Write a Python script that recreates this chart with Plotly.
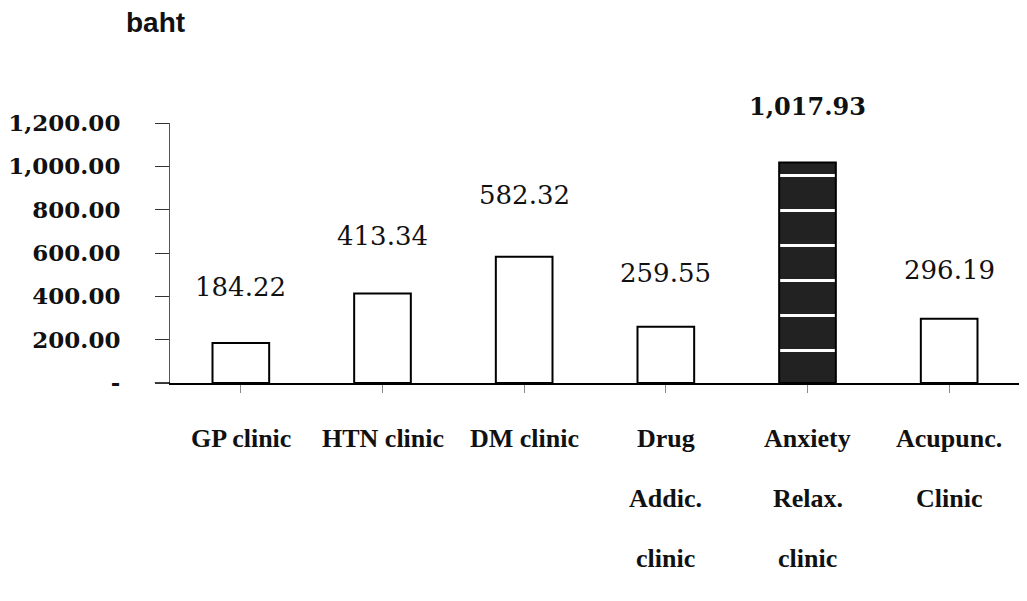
import plotly.graph_objects as go

categories = ["GP clinic", "HTN clinic", "DM clinic", "Drug\nAddic.\nclinic", "Anxiety\nRelax.\nclinic", "Acupunc.\nClinic"]
values = [184.22, 413.34, 582.32, 259.55, 1017.93, 296.19]
value_labels = ["184.22", "413.34", "582.32", "259.55", "1,017.93", "296.19"]
tick_vals = [0, 200, 400, 600, 800, 1000, 1200]
tick_text = ["-", "200.00", "400.00", "600.00", "800.00", "1,000.00", "1,200.00"]
highlight = "Anxiety\nRelax.\nclinic"

# style (not data)
label_yshift = [56, 57, 62, 54, 56, 49]

xs = list(range(len(categories)))
fills = ["#222222" if c == highlight else "white" for c in categories]
shapes_pat = ["-" if c == highlight else "" for c in categories]

fig = go.Figure()
fig.add_trace(go.Bar(
    x=xs, y=values, width=0.4,
    marker=dict(
        color=fills,
        line=dict(color="black", width=2),
        pattern=dict(shape=shapes_pat, fgcolor="white", bgcolor="#222222", fgopacity=1,
                     size=35, solidity=0.09),
    ),
    showlegend=False,
))

annotations = []
for i, (v, lab) in enumerate(zip(values, value_labels)):
    bold = categories[i] == highlight
    annotations.append(dict(
        x=xs[i], y=v, xref="x", yref="y", text=("<b>%s</b>" % lab) if bold else lab,
        showarrow=False, yshift=label_yshift[i],
        font=dict(family="DejaVu Serif", size=26 if not bold else 24, color="#111"),
        yanchor="middle",
    ))
for i, c in enumerate(categories):
    for j, line in enumerate(c.split("\n")):
        annotations.append(dict(
            x=xs[i], y=0, xref="x", yref="paper", text="<b>%s</b>" % line,
            showarrow=False, yanchor="middle", yshift=-55 - 60 * j,
            font=dict(family="Liberation Serif", size=26, color="#111"),
        ))
annotations.append(dict(
    x=-0.0545, y=1.0, xref="paper", yref="paper", xanchor="left", yanchor="middle",
    text="<b>baht</b>", showarrow=False, yshift=101,
    font=dict(family="Liberation Sans", size=28, color="#111"),
))

fig.update_layout(
    width=1027, height=601,
    margin=dict(l=162, r=15, t=115, b=226),
    paper_bgcolor="white", plot_bgcolor="white",
    annotations=annotations,
    shapes=[dict(type="line", xref="paper", yref="y", x0=-0.018, x1=0, y0=0, y1=0,
                 line=dict(color="black", width=1.5))],
)
fig.update_xaxes(
    range=[-0.5, len(categories) - 0.5], tickvals=xs, showticklabels=False,
    tickson="boundaries", ticks="outside", ticklen=8, tickcolor="#888",
    showline=True, linecolor="black", linewidth=1.5, showgrid=False, zeroline=False,
    automargin=False,
)
fig.update_yaxes(
    range=[0, 1200], tickvals=tick_vals, ticktext=tick_text,
    ticks="outside", ticklen=14, tickcolor="#333", ticklabelstandoff=30,
    showline=True, linecolor="#555", linewidth=1, showgrid=False, zeroline=False,
    tickfont=dict(family="DejaVu Serif", size=23, color="#111", weight="bold"),
    automargin=False,
)
fig.write_html("out.html")
